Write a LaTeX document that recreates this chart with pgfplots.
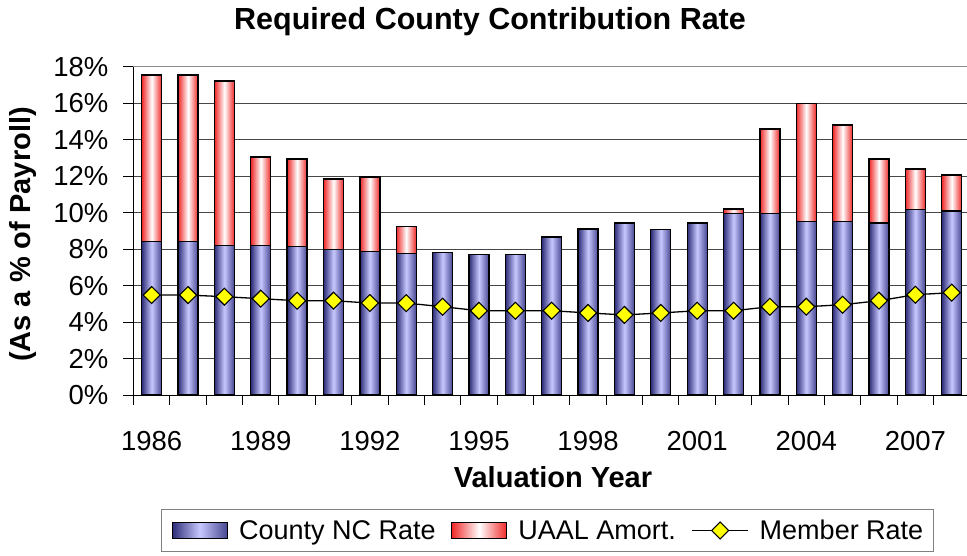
\documentclass[border=0pt]{standalone}
\usepackage{pgfplots}
\usepackage{pgfplotstable}
\pgfplotsset{compat=1.18}
\usepackage{fontspec}
\setmainfont{Liberation Sans}
\definecolor{ncdark}{RGB}{45,45,120}
\definecolor{ncdarkR}{RGB}{70,70,145}
\definecolor{nclight}{RGB}{200,200,255}
\definecolor{uaalred}{RGB}{240,40,40}
\definecolor{memyellow}{RGB}{255,255,0}
\definecolor{gridgray}{RGB}{70,70,70}

\pgfplotsset{
  bluebar/.style={draw=black, line width=1.3pt, left color=ncdark, right color=ncdarkR, middle color=nclight},
  redbar/.style={draw=black, line width=1.3pt, left color=uaalred, right color=uaalred, middle color=white},
  memberline/.style={black, line width=1.3pt, mark=square*, mark size=6pt,
    mark options={fill=memyellow, draw=black, rotate=45, line width=1.1pt}},
  barlegend/.style={legend image code/.code={\draw[##1] (0pt,-8pt) rectangle (55pt,8pt);}},
  linelegend/.style={legend image code/.code={\draw[##1, mark=none] (0pt,0pt) -- (56pt,0pt); \draw[##1] plot coordinates {(28pt,0pt)};}},
}

\pgfplotstableread{
x nc uaal member
0 8.43 9.11 5.48
1 8.43 9.11 5.48
2 8.20 9.01 5.39
3 8.20 4.85 5.28
4 8.13 4.81 5.17
5 7.99 3.85 5.17
6 7.88 4.07 5.04
7 7.77 1.46 5.04
8 7.80 0.00 4.84
9 7.69 0.00 4.62
10 7.69 0.00 4.62
11 8.66 0.00 4.62
12 9.10 0.00 4.50
13 9.43 0.00 4.39
14 9.08 0.00 4.50
15 9.43 0.00 4.62
16 9.96 0.24 4.62
17 9.96 4.62 4.84
18 9.50 6.50 4.84
19 9.50 5.30 4.95
20 9.43 3.51 5.17
21 10.16 2.23 5.50
22 10.09 1.97 5.61
}\datatable

\begin{document}
\begin{tikzpicture}
\begin{axis}[
  at={(0pt,0pt)}, anchor=south west,
  scale only axis, width=836.4pt, height=328.3pt,
  xmin=-0.5, xmax=22.5, ymin=0, ymax=18,
  ybar, bar width=20pt,
  axis lines*=left, axis line style={black, line width=1pt, -},
  ytick={0,2,...,18},
  yticklabels={0\%,2\%,4\%,6\%,8\%,10\%,12\%,14\%,16\%,18\%},
  xtick={-0.5,0.5,...,22.5},
  xticklabels={},
  extra x ticks={0,3,...,21},
  extra x tick labels={1986,1989,1992,1995,1998,2001,2004,2007},
  extra x tick style={major tick length=0pt},
  tick align=outside,
  major tick length=10pt,
  tick style={black, line width=1pt},
  ymajorgrids, major grid style={gridgray, line width=1pt},
  ticklabel style={font=\fontsize{27.5}{32}\selectfont, inner sep=0pt},
  yticklabel style={anchor=east, xshift=-15pt},
  xticklabel style={anchor=base, yshift=-55pt},
  /pgf/number format/assume math mode=true,
  legend style={at={(0.495,-0.4127)}, anchor=center, draw=black!50, line width=1.2pt,
    font=\fontsize{27}{32}\selectfont, inner xsep=10pt, inner ysep=10.5pt,
    nodes={inner sep=0pt},
    /tikz/every odd column/.append style={column sep=11pt},
    /tikz/every even column/.append style={column sep=15.5pt}},
  legend columns=3,
  legend cell align=left,
  extra description/.code={\draw[black!45, line width=1.5pt] (axis description cs:0,1) -- (axis description cs:1,1);},
]
\addlegendimage{bluebar, barlegend}
\addlegendentry{County NC Rate}
\addlegendimage{redbar, barlegend}
\addlegendentry{UAAL Amort.}
\addlegendimage{memberline, linelegend}
\addlegendentry{Member Rate}
\pgfplotsinvokeforeach{0,...,22}{
  \addplot[redbar, bar shift=0pt, forget plot, restrict x to domain=#1:#1]
    table[x=x, y expr=\thisrow{nc}+\thisrow{uaal}]{\datatable};
  \addplot[bluebar, bar shift=0pt, forget plot, restrict x to domain=#1:#1]
    table[x=x, y=nc]{\datatable};
}
\end{axis}
\begin{axis}[
  at={(0pt,0pt)}, anchor=south west,
  scale only axis, width=836.4pt, height=328.3pt,
  xmin=-0.5, xmax=22.5, ymin=0, ymax=18,
  hide axis, clip=false,
]
\addplot[memberline] table[x=x,y=member]{\datatable};
\end{axis}
\node[font=\fontsize{30.5}{36}\selectfont\bfseries, anchor=base] at (356.5pt,365pt) {Required County Contribution Rate};
\node[font=\fontsize{29}{36}\selectfont\bfseries, anchor=base] at (419.5pt,-92pt) {Valuation Year};
\node[font=\fontsize{29}{36}\selectfont\bfseries, rotate=90] at (-110.5pt,160.5pt) {(As a \% of Payroll)};
\pgfresetboundingbox
\path[use as bounding box] (-133.5pt,-160pt) rectangle (833.5pt,395pt);
\end{tikzpicture}
\end{document}
